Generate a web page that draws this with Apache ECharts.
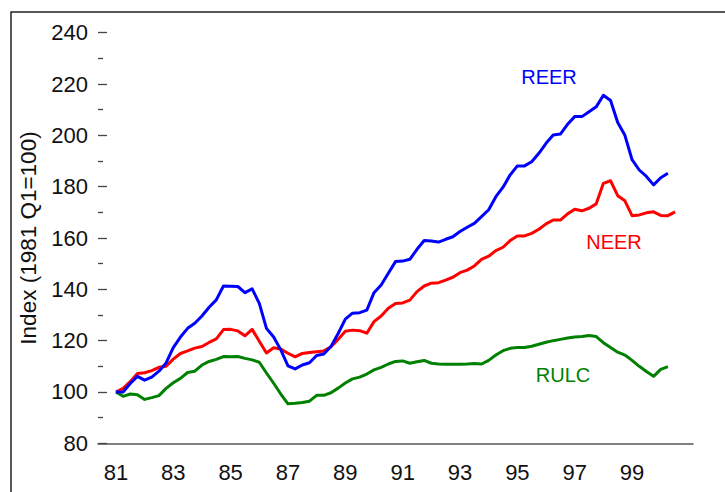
<!DOCTYPE html>
<html>
<head>
<meta charset="utf-8">
<script src="https://cdn.jsdelivr.net/npm/echarts@6/dist/echarts.min.js"></script>
<style>
  html, body { margin: 0; padding: 0; background: #fff; }
  #chart { width: 725px; height: 492px; }
</style>
</head>
<body>
<div id="chart"></div>
<script>
// quarters from 1980Q3 to 2001Q1 (two empty quarters of padding at each end)
const quarters = [];
for (let y = 1980; y <= 2001; y++) {
  for (let q = 1; q <= 4; q++) quarters.push(y + 'Q' + q);
}
const categories = quarters.slice(2, 85);
const firstDataIndex = 2; // 1981Q1
const tickYears = ['81', '83', '85', '87', '89', '91', '93', '95', '97', '99'];

// data, quarterly from 1981Q1
const reer = [
  100, 100, 103.3, 106.1, 104.6, 105.8, 108.1, 111.3, 117.3, 121.4,
  124.8, 126.8, 129.6, 133, 135.9, 141.3, 141.2, 141.1, 138.7, 140.2,
  134.5, 124.8, 121.4, 116.4, 110.2, 109, 110.5, 111.4, 114.2, 114.8,
  117.7, 122.8, 128.4, 130.7, 130.9, 131.9, 138.7, 141.7, 146.3, 150.8,
  151, 151.7, 155.6, 159, 158.8, 158.4, 159.5, 160.5, 162.5, 164.2,
  165.7, 168.3, 171, 176.1, 179.8, 184.6, 188.1, 188.1, 189.7, 193,
  196.9, 200.1, 200.5, 204.3, 207.3, 207.3, 209.2, 211.1, 215.6, 213.6,
  205, 200, 190.5, 186.5, 184, 180.7, 183.5, 185.2
];
const neer = [
  100, 101.4, 104, 107.2, 107.5, 108.3, 109.6, 110, 112.8, 115,
  116, 117.1, 117.7, 119.3, 120.7, 124.3, 124.4, 123.8, 121.9, 124.4,
  119.8, 115.2, 117.2, 116.7, 115.1, 113.7, 115, 115.4, 115.7, 116,
  117.6, 120.5, 123.7, 124.1, 123.9, 122.9, 127.4, 129.6, 132.6, 134.5,
  134.7, 135.8, 139.1, 141.3, 142.4, 142.6, 143.6, 144.7, 146.5, 147.5,
  149.1, 151.7, 152.9, 155.1, 156.4, 159, 160.8, 160.8, 161.8, 163.4,
  165.5, 167, 167, 169.4, 171.2, 170.6, 171.6, 173.3, 181.3, 182.3,
  176.5, 174.5, 168.7, 169, 169.8, 170.2, 168.8, 168.7, 170.2
];
const rulc = [
  100, 98.3, 99.2, 98.9, 97.1, 97.8, 98.6, 101.4, 103.6, 105.3,
  107.6, 108.1, 110.5, 111.9, 112.7, 113.8, 113.7, 113.8, 113.1, 112.5,
  111.6, 107.4, 103.4, 99.2, 95.4, 95.6, 95.9, 96.4, 98.7, 98.7,
  99.7, 101.5, 103.5, 105.1, 105.8, 107, 108.6, 109.6, 110.9, 111.9,
  112.1, 111.2, 111.8, 112.3, 111.2, 110.9, 110.8, 110.8, 110.8, 110.9,
  111.1, 110.9, 112.3, 114.4, 116.1, 117, 117.3, 117.3, 117.8, 118.6,
  119.4, 120, 120.5, 121, 121.4, 121.6, 122, 121.6, 119.2, 117.3,
  115.5, 114.4, 112.3, 110, 108, 106.1, 108.8, 109.9
];

const font = 'Liberation Sans, Arial, sans-serif';
const toPairs = arr => arr.map((v, i) => [i + firstDataIndex, v]);
const lastTickIndex = firstDataIndex + neer.length - 1;
const isMajor = value => value.endsWith('Q1') && tickYears.includes(value.slice(2, 4));

const chartInstance = echarts.init(document.getElementById('chart'), null, { renderer: 'svg' });

const option = {
  animation: false,
  grid: { left: 98, right: 32, top: 32.7, bottom: 48.7 },
  xAxis: [
    {
      type: 'category',
      data: categories,
      boundaryGap: true,
      axisLine: { lineStyle: { color: '#555', width: 1.5 } },
      axisTick: {
        alignWithLabel: true,
        length: 4,
        interval: (index) => index >= firstDataIndex && index <= lastTickIndex,
        lineStyle: { color: '#555', width: 1 }
      },
      axisLabel: { show: false },
      splitLine: { show: false }
    },
    {
      type: 'category',
      data: categories,
      boundaryGap: true,
      position: 'bottom',
      axisLine: { show: false },
      axisTick: {
        alignWithLabel: true,
        length: 10,
        interval: (index, value) => isMajor(value),
        lineStyle: { color: '#333', width: 1.3 }
      },
      axisLabel: {
        interval: (index, value) => isMajor(value),
        formatter: value => value.slice(2, 4),
        fontSize: 22,
        fontFamily: font,
        color: '#111',
        margin: 18
      },
      splitLine: { show: false }
    }
  ],
  yAxis: {
    type: 'value',
    min: 80,
    max: 240,
    interval: 20,
    name: 'Index (1981 Q1=100)',
    nameLocation: 'middle',
    nameGap: 56,
    nameTextStyle: { fontSize: 22.5, fontFamily: font, color: '#111' },
    axisLine: { show: false },
    axisTick: { show: true, inside: true, length: 9, lineStyle: { color: '#444', width: 1.3 } },
    minorTick: { show: true, splitNumber: 2, length: 5, lineStyle: { color: '#444', width: 1.3 } },
    splitLine: { show: false },
    axisLabel: { fontSize: 22, fontFamily: font, color: '#111', margin: 10 }
  },
  series: [
    {
      name: 'RULC', type: 'line', data: toPairs(rulc), showSymbol: false,
      lineStyle: { color: '#008000', width: 3, join: 'round' }
    },
    {
      name: 'NEER', type: 'line', data: toPairs(neer), showSymbol: false,
      lineStyle: { color: '#ff0000', width: 3, join: 'round' }
    },
    {
      name: 'REER', type: 'line', data: toPairs(reer), showSymbol: false,
      lineStyle: { color: '#0000ff', width: 3, join: 'round' }
    }
  ],
  graphic: [
    {
      type: 'rect', silent: true,
      shape: { x: 11, y: 12, width: 800, height: 600 },
      style: { fill: 'none', stroke: '#222', lineWidth: 1.5 }
    },
    {
      type: 'text', x: 549, y: 77,
      style: { text: 'REER', fill: '#0000ff', font: '20px ' + font, textAlign: 'center', textVerticalAlign: 'middle' }
    },
    {
      type: 'text', x: 614, y: 242,
      style: { text: 'NEER', fill: '#ff0000', font: '20px ' + font, textAlign: 'center', textVerticalAlign: 'middle' }
    },
    {
      type: 'text', x: 563, y: 375,
      style: { text: 'RULC', fill: '#008000', font: '20px ' + font, textAlign: 'center', textVerticalAlign: 'middle' }
    }
  ]
};
chartInstance.setOption(option);
</script>
</body>
</html>
